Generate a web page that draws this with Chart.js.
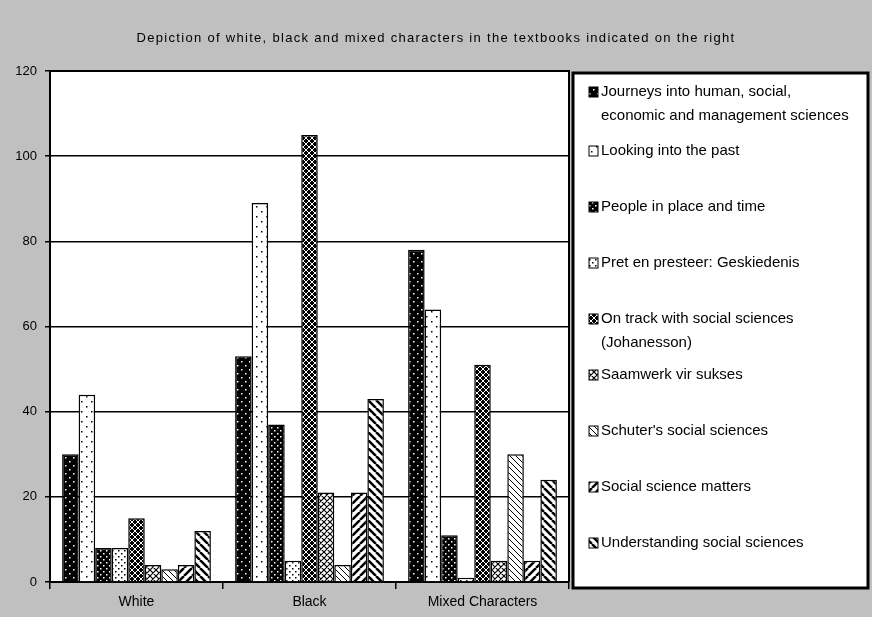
<!DOCTYPE html>
<html>
<head>
<meta charset="utf-8">
<script src="https://cdn.jsdelivr.net/npm/chart.js@4.4.0/dist/chart.umd.min.js"></script>
<style>
  body { margin: 0; background: #c0c0c0; }
  #wrap { position: relative; width: 872px; height: 617px; }
</style>
</head>
<body>
<div id="wrap"><canvas id="chartBar"></canvas></div>
<script>
const chartTitle = 'Depiction of white, black and mixed characters in the textbooks indicated on the right';
const categories = ['White', 'Black', 'Mixed Characters'];
const yTicks = [0, 20, 40, 60, 80, 100, 120];

const bookNames = [
  ['Journeys into human, social,', 'economic and management sciences'],
  ['Looking into the past'],
  ['People in place and time'],
  ['Pret en presteer: Geskiedenis'],
  ['On track with social sciences', '(Johanesson)'],
  ['Saamwerk vir sukses'],
  ["Schuter's social sciences"],
  ['Social science matters'],
  ['Understanding social sciences']
];

const journeys      = [30, 53, 78];
const lookingPast   = [44, 89, 64];
const peoplePlace   = [8, 37, 11];
const pretPresteer  = [8, 5, 1];
const onTrack       = [15, 105, 51];
const saamwerk      = [4, 21, 5];
const schuter       = [3, 4, 30];
const socialMatters = [4, 21, 5];
const understanding = [12, 43, 24];

const seriesValues = [journeys, lookingPast, peoplePlace, pretPresteer, onTrack,
                      saamwerk, schuter, socialMatters, understanding];

const ctxBar = document.getElementById('chartBar');
const mainCtx = ctxBar.getContext('2d');

// small tiles for the black & white fill patterns
function tile(size, bg, draw) {
  const c = document.createElement('canvas');
  c.width = size; c.height = size;
  const g = c.getContext('2d');
  g.fillStyle = bg;
  g.fillRect(0, 0, size, size);
  draw(g, size);
  return mainCtx.createPattern(c, 'repeat');
}
function dots(col) {
  return (g, s) => {
    g.fillStyle = col;
    g.fillRect(1, 1, 1.5, 1.5);
    g.fillRect(s / 2 + 1, s / 2 + 1, 1.5, 1.5);
  };
}
function lines(col, w, dir) {
  return (g, s) => {
    g.strokeStyle = col; g.lineWidth = w;
    g.beginPath();
    for (let k = -s; k <= s; k += s) {
      if (dir === '\\' || dir === 'x') { g.moveTo(k, 0); g.lineTo(k + s, s); }
      if (dir === '/' || dir === 'x') { g.moveTo(k, s); g.lineTo(k + s, 0); }
    }
    g.stroke();
  };
}

const fills = [
  tile(8, '#000', dots('#fff')),
  tile(10, '#fff', dots('#000')),
  tile(6, '#000', dots('#fff')),
  tile(6, '#fff', dots('#000')),
  tile(6, '#000', lines('#fff', 1, 'x')),
  tile(6, '#fff', lines('#000', 1.2, 'x')),
  tile(6, '#fff', lines('#000', 1, '\\')),
  tile(8, '#fff', lines('#000', 2.5, '/')),
  tile(8, '#fff', lines('#000', 2.5, '\\'))
];

const frame = {
  id: 'frame',
  beforeDraw(chart) {
    const a = chart.chartArea, c = chart.ctx;
    c.save();
    c.fillStyle = '#fff';
    c.fillRect(a.left, a.top, a.right - a.left, a.bottom - a.top);
    c.restore();
  },
  afterDraw(chart) {
    const a = chart.chartArea, c = chart.ctx;
    c.save();
    c.strokeStyle = '#000';
    c.lineWidth = 2;
    c.beginPath();
    c.moveTo(a.left, a.top); c.lineTo(a.right, a.top); c.lineTo(a.right, a.bottom);
    c.stroke();

    // title
    c.fillStyle = '#000';
    c.font = '13px "Liberation Sans", Arial, sans-serif';
    c.letterSpacing = '1.3px';
    c.textAlign = 'center';
    c.textBaseline = 'middle';
    c.fillText(chartTitle, chart.width / 2, 38);
    c.letterSpacing = '0px';

    // legend box
    const bx = a.right + 4, by = 73, bw = 868 - bx, bh = 515;
    c.fillStyle = '#fff';
    c.fillRect(bx, by, bw, bh);
    c.lineWidth = 3;
    c.strokeRect(bx, by, bw, bh);

    c.font = '15px "Liberation Sans", Arial, sans-serif';
    c.textAlign = 'left';
    chart.data.datasets.forEach((ds, i) => {
      const y = i === 0 ? 92 : 151 + (i - 1) * 56;
      c.fillStyle = ds.backgroundColor;
      c.fillRect(bx + 16, y - 5, 9, 10);
      c.lineWidth = 1;
      c.strokeRect(bx + 16, y - 5, 9, 10);
      c.fillStyle = '#000';
      bookNames[i].forEach((t, j) => c.fillText(t, bx + 28, y + j * 24));
    });
    c.restore();
  }
};

new Chart(ctxBar, {
  type: 'bar',
  data: {
    labels: categories,
    datasets: seriesValues.map((vals, i) => ({
      label: bookNames[i].join(' '),
      data: vals,
      backgroundColor: fills[i],
      borderColor: '#000',
      borderWidth: 1.5,
      categoryPercentage: 0.86,
      barPercentage: 1
    }))
  },
  options: {
    responsive: true,
    maintainAspectRatio: false,
    animation: false,
    layout: { padding: { top: 71, right: 303, left: 0, bottom: 0 } },
    plugins: {
      legend: { display: false },
      title: { display: false },
      tooltip: { enabled: false }
    },
    scales: {
      x: {
        grid: { display: true, drawOnChartArea: false, offset: true, color: '#000', lineWidth: 1.5, tickLength: 7 },
        border: { color: '#000', width: 2 },
        ticks: { color: '#000', font: { family: 'Liberation Sans', size: 14 }, padding: 5 },
        afterFit(s) { s.height = 35; }
      },
      y: {
        min: 0,
        max: 120,
        afterBuildTicks(s) { s.ticks = yTicks.map(v => ({ value: v })); },
        ticks: { color: '#000', font: { family: 'Liberation Sans', size: 13 }, padding: 8 },
        grid: { color: '#000', lineWidth: 1.5, tickLength: 5 },
        border: { color: '#000', width: 2 },
        afterFit(s) { s.width = 50; }
      }
    }
  },
  plugins: [frame]
});
</script>
</body>
</html>
